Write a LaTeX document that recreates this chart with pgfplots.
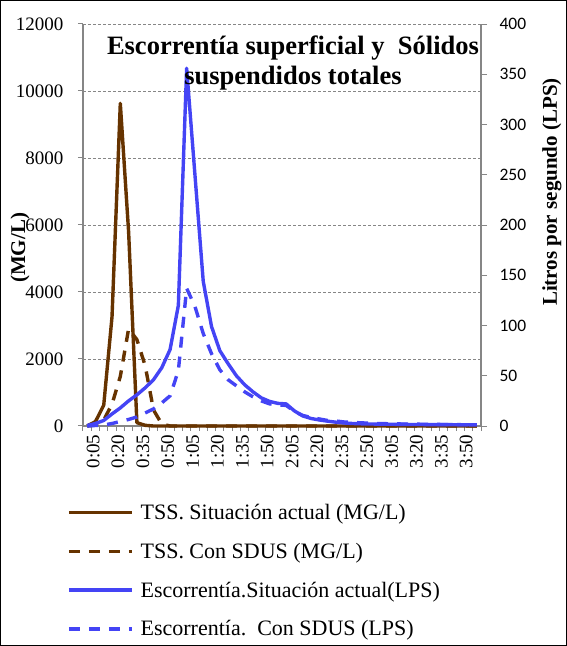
\documentclass[border=0pt]{standalone}
\usepackage{fontspec}
\setmainfont{Liberation Serif}
\newfontfamily\carlito{Carlito}
\usepackage{pgfplots}
\usepackage{pgfplotstable}
\pgfplotsset{compat=1.18}
\definecolor{tssbrown}{RGB}{102,51,0}
\definecolor{escblue}{RGB}{68,68,245}
\definecolor{axgray}{RGB}{134,134,134}

\pgfplotstableread{
i tA tS eA eS
0 0 0 0.5 0
1 130 30 2.5 0.5
2 620 180 5.5 1
3 3260 650 12 2.5
4 9630 1480 18 4.5
5 5800 2900 25 6.5
6 100 2580 31 9
7 20 1800 38 13
8 0 480 46 17
9 0 60 58 23
10 0 0 76 30
11 0 0 120 55
12 0 0 356 137
13 0 0 250 119
14 0 0 144 92
15 0 0 99 72
16 0 0 75 56
17 0 0 62 46
18 0 0 50 40
19 0 0 41 34
20 0 0 34 29
21 0 0 28 25
22 0 0 24.5 22
23 0 0 22.5 21
24 0 0 22 20.5
25 0 0 15 14.5
26 0 0 10 10.5
27 0 0 7.5 8.5
28 0 0 6 7
29 0 0 4.8 5.5
30 0 0 3.8 5
31 0 0 3 4
32 0 0 2.5 3.5
33 0 0 2.2 3.2
34 0 0 2 2.8
35 0 0 1.9 2.5
36 0 0 1.8 2.3
37 0 0 1.7 2.2
38 0 0 1.6 2
39 0 0 1.5 1.9
40 0 0 1.5 1.8
41 0 0 1.4 1.7
42 0 0 1.4 1.6
43 0 0 1.3 1.5
44 0 0 1.3 1.4
45 0 0 1.2 1.3
46 0 0 1.2 1.2
47 0 0 1.1 1.1
}\datatable

\begin{document}
\begin{tikzpicture}
\useasboundingbox (0pt,0pt) rectangle (567pt,646pt);
\draw[black, line width=1pt] (0.5pt,0.5pt) rectangle (566.5pt,645.5pt);

\begin{axis}[
  at={(83pt,220pt)}, anchor=south west, scale only axis,
  width=398pt, height=402pt,
  xmin=-0.5, xmax=47.5, ymin=0, ymax=12000,
  axis y line*=left, axis x line*=bottom,
  axis line style={axgray, line width=1.2pt, -},
  clip=false,
  tick align=outside, major tick length=5pt,
  tick style={axgray, line width=1pt},
  ytick={0,2000,...,12000},
  scaled y ticks=false,
  ymajorgrids, grid style={densely dashed, axgray, line width=0.8pt},
  /pgf/number format/1000 sep={},
  /pgf/number format/assume math mode=true,
  yticklabel style={font=\fontsize{19}{19}\selectfont, xshift=-11pt},
  xtick={-0.5,0.5,...,47.5}, xticklabels={},
  extra x ticks={0,3,...,45},
  extra x tick labels={0:05,0:20,0:35,0:50,1:05,1:20,1:35,1:50,2:05,2:20,2:35,2:50,3:05,3:20,3:35,3:50},
  extra x tick style={tick style={draw=none}},
  xticklabel style={rotate=90, anchor=east, font=\fontsize{19}{19}\selectfont, yshift=-6pt},
]
\addplot[tssbrown, line width=3.4pt, line join=round] table[x=i, y=tA] {\datatable};
\addplot[tssbrown, line width=3.4pt, dash pattern=on 11pt off 9pt] table[x=i, y=tS] {\datatable};
\end{axis}

\begin{axis}[
  at={(83pt,220pt)}, anchor=south west, scale only axis,
  width=398pt, height=402pt,
  xmin=-0.5, xmax=47.5, ymin=0, ymax=400,
  axis y line*=right, axis x line=none,
  axis line style={axgray, line width=1.2pt, -},
  clip=false,
  tick align=outside, major tick length=6pt,
  tick style={axgray, line width=1pt},
  ytick={0,50,...,400},
  /pgf/number format/assume math mode=true,
  yticklabel style={font=\carlito\fontsize{17.5}{17.5}\selectfont, xshift=9pt},
  legend style={at={(0,0)}, anchor=north west, xshift=-19pt, yshift=-74pt,
    draw=none, fill=none, font=\fontsize{22}{22}\selectfont,
    row sep=18pt, column sep=0pt},
  legend cell align=left,
  legend image code/.code={\draw[#1] (0pt,0pt) -- (63pt,0pt); \path (68pt,0pt);},
]
\addlegendimage{tssbrown, line width=3.4pt}
\addlegendentry{TSS. Situación actual (MG/L)}
\addlegendimage{tssbrown, line width=3.4pt, dash pattern=on 11pt off 9pt}
\addlegendentry{TSS. Con SDUS (MG/L)}
\addplot[escblue, line width=3.4pt, line join=round] table[x=i, y=eA] {\datatable};
\addlegendentry{Escorrentía.Situación actual(LPS)}
\addplot[escblue, line width=3.4pt, dash pattern=on 11pt off 9pt] table[x=i, y=eS] {\datatable};
\addlegendentry{Escorrentía.\ \ Con SDUS (LPS)}
\end{axis}

\node[anchor=base, font=\bfseries\fontsize{26.5}{30}\selectfont] at (293pt,591pt) {Escorrentía superficial y\ \ Sólidos};
\node[anchor=base, font=\bfseries\fontsize{26.5}{30}\selectfont] at (293pt,561pt) {suspendidos totales};
\node[rotate=90, font=\bfseries\fontsize{21}{21}\selectfont] at (20pt,398pt) {(MG/L)};
\node[rotate=90, font=\bfseries\fontsize{21}{21}\selectfont] at (552pt,454pt) {Litros por segundo (LPS)};
\end{tikzpicture}
\end{document}
